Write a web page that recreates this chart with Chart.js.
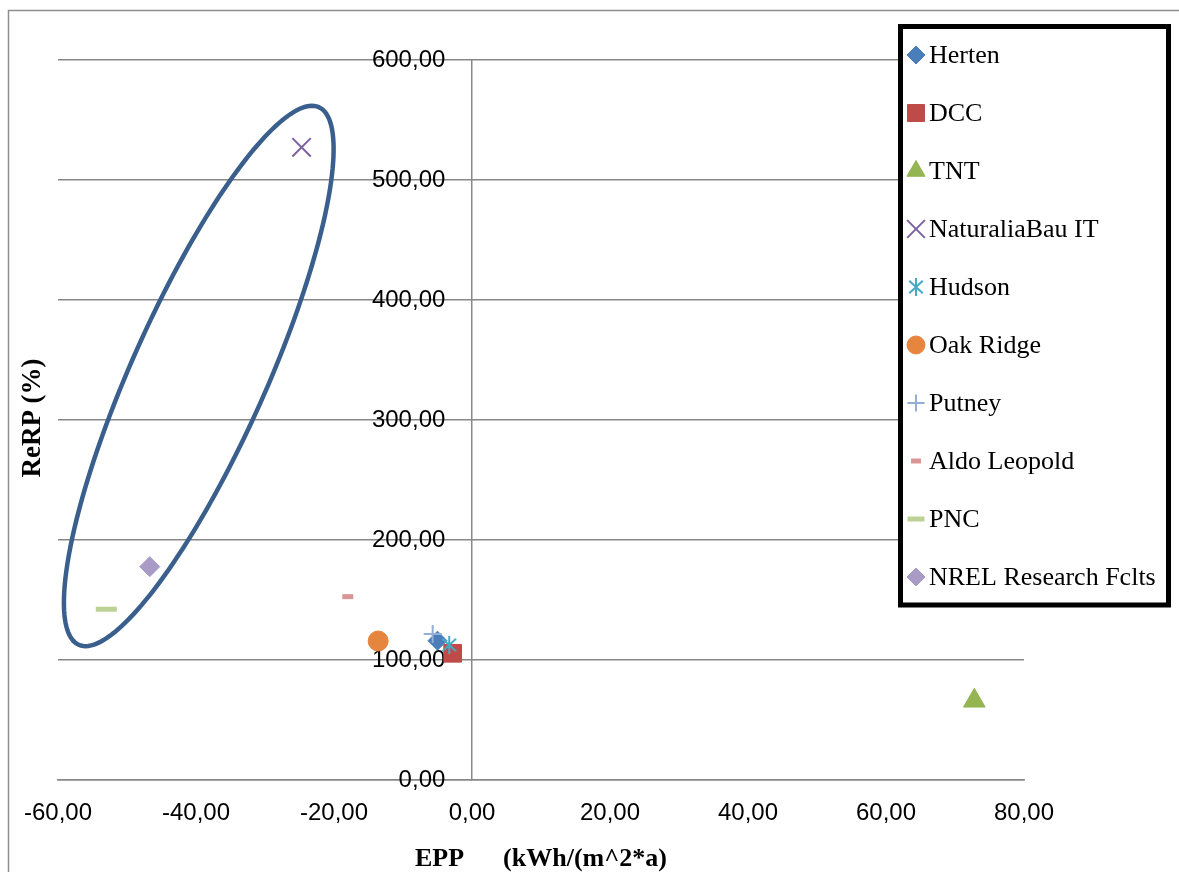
<!DOCTYPE html>
<html>
<head>
<meta charset="utf-8">
<script src="https://cdn.jsdelivr.net/npm/chart.js@4.4.1/dist/chart.umd.min.js"></script>
<style>
  html, body { margin: 0; padding: 0; background: #ffffff; }
  canvas { display: block; }
</style>
</head>
<body>
<canvas id="c" width="1179" height="872"></canvas>
<script>
// ---- data ----
const seriesNames = ['Herten', 'DCC', 'TNT', 'NaturaliaBau IT', 'Hudson', 'Oak Ridge', 'Putney', 'Aldo Leopold', 'PNC', 'NREL Research Fclts'];
const eppValues  = [-5.0, -2.8, 72.8, -24.7, -3.3, -13.6, -5.7, -18.0, -53.0, -46.7];
const rerpValues = [116.1, 105.6, 66.0, 527.2, 112.5, 115.8, 121.7, 152.8, 142.3, 177.8];
const xTickValues = [-60, -40, -20, 0, 20, 40, 60, 80];
const yTickValues = [0, 100, 200, 300, 400, 500, 600];
const xAxisTitle = 'EPP      (kWh/(m^2*a)';
const yAxisTitle = 'ReRP (%)';

// highlight ring around the low-EPP group, in data units (centre + two semi-axis vectors)
const ringCenter = [-39.6, 336.7];
const ringAxisA  = [17.4, 224.0];
const ringAxisB  = [8.9, -22.8];

// ---- marker styling ----
function makeAsterisk(color) {
  const cv = document.createElement('canvas');
  cv.width = 20; cv.height = 20;
  const g = cv.getContext('2d');
  g.strokeStyle = color; g.lineWidth = 2; g.lineCap = 'butt';
  g.beginPath();
  g.moveTo(10, 1); g.lineTo(10, 19);
  g.moveTo(3.2, 3.8); g.lineTo(16.8, 16.2);
  g.moveTo(16.8, 3.8); g.lineTo(3.2, 16.2);
  g.stroke();
  return cv;
}
const markerColors = ['#4A7EBB', '#BE4B48', '#94B552', '#7D60A0', '#46AAC5', '#E6863E', '#94AED6', '#D99694', '#BCD194', '#A99AC6'];
const markerStyles = ['rectRot', 'rect', 'triangle', 'crossRot', makeAsterisk('#46AAC5'), 'circle', 'cross', 'line', 'line', 'rectRot'];
const markerRadii  = [9.5, 12.5, 12.5, 13, 10, 10, 9, 5.5, 10.5, 10];
const markerLines  = [1, 1, 1, 2, 2, 1, 2, 5, 5, 1];
const legendRadii  = [9, 12, 10.5, 12.5, 9, 9, 8.5, 5, 8.5, 9];

// tick text uses a decimal comma; trailing spaces keep the y labels clear of the axis line
const fmt = v => Number(v).toFixed(2).replace('.', ',');
const gridColor = '#878787';

const datasets = seriesNames.map((name, i) => ({
  label: name,
  data: [{ x: eppValues[i], y: rerpValues[i] }],
  pointStyle: markerStyles[i],
  pointRadius: markerRadii[i],
  pointHoverRadius: markerRadii[i],
  pointBackgroundColor: markerColors[i],
  pointBorderColor: markerColors[i],
  pointBorderWidth: markerLines[i],
  showLine: false,
  order: seriesNames.length - i
}));

const decor = {
  id: 'decor',
  beforeDraw(chart) {
    const ctx = chart.ctx;
    ctx.save();
    ctx.fillStyle = '#ffffff';
    ctx.fillRect(0, 0, chart.width, chart.height);
    // outer chart frame
    ctx.strokeStyle = '#8E8E8E';
    ctx.lineWidth = 1.5;
    ctx.beginPath();
    ctx.moveTo(8.5, chart.height);
    ctx.lineTo(8.5, 10.5);
    ctx.lineTo(chart.width, 10.5);
    ctx.stroke();
    ctx.restore();
  },
  afterDatasetsDraw(chart) {
    const ctx = chart.ctx;
    const xs = chart.scales.x, ys = chart.scales.y;
    ctx.save();
    ctx.strokeStyle = '#3A5F8C';
    ctx.lineWidth = 4.5;
    ctx.beginPath();
    for (let k = 0; k <= 180; k++) {
      const t = k / 180 * Math.PI * 2;
      const dx = ringCenter[0] + Math.cos(t) * ringAxisA[0] + Math.sin(t) * ringAxisB[0];
      const dy = ringCenter[1] + Math.cos(t) * ringAxisA[1] + Math.sin(t) * ringAxisB[1];
      const px = xs.getPixelForValue(dx), py = ys.getPixelForValue(dy);
      if (k === 0) ctx.moveTo(px, py); else ctx.lineTo(px, py);
    }
    ctx.closePath();
    ctx.stroke();
    ctx.restore();
  },
  afterDraw(chart) {
    const ctx = chart.ctx;
    const area = chart.chartArea;
    ctx.save();
    // axis titles
    ctx.fillStyle = '#000000';
    ctx.textAlign = 'center';
    ctx.textBaseline = 'middle';
    ctx.font = 'bold 26px "Liberation Serif", "Times New Roman", serif';
    ctx.fillText(xAxisTitle, (area.left + area.right) / 2, 859);
    ctx.save();
    ctx.font = 'bold 27px "Liberation Serif", "Times New Roman", serif';
    ctx.translate(33, 418);
    ctx.rotate(-Math.PI / 2);
    ctx.fillText(yAxisTitle, 0, 0);
    ctx.restore();

    // legend box
    const box = { left: 900.5, top: 26.5, right: 1168.5, bottom: 605 };
    ctx.fillStyle = '#ffffff';
    ctx.fillRect(box.left, box.top, box.right - box.left, box.bottom - box.top);
    ctx.strokeStyle = '#000000';
    ctx.lineWidth = 5;
    ctx.strokeRect(box.left, box.top, box.right - box.left, box.bottom - box.top);

    ctx.font = '26px "Liberation Serif", "Times New Roman", serif';
    ctx.textAlign = 'left';
    ctx.textBaseline = 'middle';
    const drawPoint = Chart.helpers && Chart.helpers.drawPoint;
    seriesNames.forEach((name, i) => {
      const y = 55 + i * 58;
      const x = 916;
      ctx.save();
      ctx.fillStyle = markerColors[i];
      ctx.strokeStyle = markerColors[i];
      ctx.lineWidth = markerLines[i];
      if (drawPoint) {
        drawPoint(ctx, { pointStyle: markerStyles[i], radius: legendRadii[i], rotation: 0, borderWidth: markerLines[i] }, x, y);
      }
      ctx.restore();
      ctx.fillStyle = '#000000';
      ctx.fillText(name, 929, y + 1);
    });
    ctx.restore();
  }
};

new Chart(document.getElementById('c'), {
  type: 'scatter',
  data: { datasets },
  options: {
    responsive: false,
    devicePixelRatio: 1,
    animation: false,
    events: [],
    layout: { padding: { top: 60, left: 58, right: 155, bottom: 0 } },
    plugins: { legend: { display: false }, tooltip: { enabled: false } },
    scales: {
      x: {
        type: 'linear',
        position: 'bottom',
        min: xTickValues[0],
        max: xTickValues[xTickValues.length - 1],
        afterBuildTicks: s => { s.ticks = xTickValues.map(v => ({ value: v })); },
        afterFit: s => { s.height = 92; },
        grid: { display: false },
        border: { display: true, color: gridColor, width: 1.5 },
        ticks: {
          padding: 11,
          color: '#000000',
          font: { family: '"Liberation Sans", Arial, sans-serif', size: 24 },
          maxRotation: 0,
          autoSkip: false,
          callback: v => fmt(v)
        }
      },
      y: {
        type: 'linear',
        position: { x: 0 },
        min: yTickValues[0],
        max: yTickValues[yTickValues.length - 1],
        afterBuildTicks: s => { s.ticks = yTickValues.map(v => ({ value: v })); },
        grid: { display: true, color: gridColor, lineWidth: 1.5, drawTicks: false },
        border: { display: true, color: gridColor, width: 1.5 },
        ticks: {
          padding: 25,
          color: '#000000',
          font: { family: '"Liberation Sans", Arial, sans-serif', size: 24 },
          autoSkip: false,
          callback: v => fmt(v) + '    '
        }
      }
    }
  },
  plugins: [decor]
});
</script>
</body>
</html>
